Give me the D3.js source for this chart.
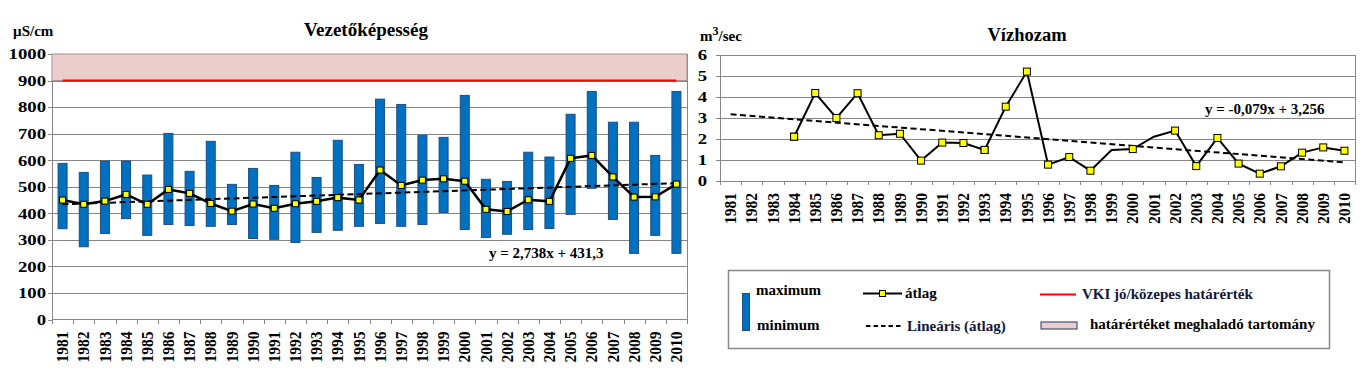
<!DOCTYPE html>
<meta charset="utf-8">
<style>
  body { margin: 0; background: #fff; }
  svg { font-family: "Liberation Serif", "Times New Roman", serif; font-weight: bold; }
  svg text { font-family: "Liberation Serif", "Times New Roman", serif; font-weight: bold; }
  .axis path { display: none; }
  .axis line { stroke: #868686; shape-rendering: crispEdges; }
  .grid line { stroke: #868686; stroke-width: 1; shape-rendering: crispEdges; }
</style>
<body>
<div id="chart"></div>
<script src="https://d3js.org/d3.v7.min.js"></script>
<script>
// categories
var years = ["1981","1982","1983","1984","1985","1986","1987","1988","1989","1990",
             "1991","1992","1993","1994","1995","1996","1997","1998","1999","2000",
             "2001","2002","2003","2004","2005","2006","2007","2008","2009","2010"];

// vezetőképesség (µS/cm)
var maxVals = [588,554,597,597,544,701,558,671,509,569,505,630,535,675,584,
               830,810,694,686,844,528,520,630,612,773,859,743,743,618,859];
var minVals = [342,274,324,380,317,358,354,351,358,305,302,290,328,336,351,
               362,351,358,403,339,309,321,339,343,396,494,377,249,317,249];
var avgVals = [450,434,446,471,434,490,475,437,408,435,419,436,445,459,450,
               563,505,525,530,521,415,407,451,445,607,618,537,461,462,510];
var limitVal = 900, bandTop = 1000;
var trendL = { slope: 2.738, intercept: 431.3, label: "y = 2,738x + 431,3" };

// vízhozam (m3/sec)
var flowVals = [null,null,null,2.11,4.19,3.0,4.18,2.18,2.25,0.97,
                1.83,1.81,1.48,3.54,5.21,0.78,1.14,0.49,1.48,1.52,
                2.11,2.40,0.71,2.05,0.83,0.35,0.70,1.35,1.60,1.44];
var trendR = { slope: -0.079, intercept: 3.256, label: "y = -0,079x + 3,256" };

var ticksL = [0,100,200,300,400,500,600,700,800,900,1000];
var ticksR = [0,1,2,3,4,5,6];

var svg = d3.select("#chart").append("svg")
    .attr("width", 1369).attr("height", 376);

// draws the common frame: grid, y axis, x axis with rotated year labels
function frame(box, yScale, ticks) {
  var x = d3.scaleBand().domain(years).range([box.x0, box.x1]);
  var g = svg.append("g");

  g.append("g").attr("class", "grid")
    .selectAll("line").data(ticks.slice(1)).enter().append("line")
    .attr("x1", box.x0).attr("x2", box.x1)
    .attr("y1", function(d) { return Math.round(yScale(d)) + 0.5; })
    .attr("y2", function(d) { return Math.round(yScale(d)) + 0.5; });

  // axis lines
  g.append("line").attr("x1", box.x0).attr("x2", box.x0)
    .attr("y1", box.yTop).attr("y2", box.yBot + 4)
    .attr("stroke", "#868686").attr("shape-rendering", "crispEdges");
  g.append("line").attr("x1", box.x0).attr("x2", box.x1)
    .attr("y1", box.yBot).attr("y2", box.yBot)
    .attr("stroke", "#868686").attr("shape-rendering", "crispEdges");
  g.append("line").attr("x1", box.x1).attr("x2", box.x1)
    .attr("y1", box.yTop).attr("y2", box.yBot)
    .attr("stroke", "#868686").attr("shape-rendering", "crispEdges");

  var ya = g.append("g").attr("class", "axis")
    .attr("transform", "translate(" + box.x0 + ",0)")
    .call(d3.axisLeft(yScale).tickValues(ticks).tickFormat(d3.format("d"))
      .tickSize(4).tickSizeOuter(0));
  ya.attr("font-family", null);
  ya.selectAll("text")
    .attr("font-size", 15).attr("fill", "#000")
    .attr("x", -box.labelGap / 1.25)
    .attr("transform", "scale(1.25,1)");

  // boundary tick marks
  var bx = d3.scaleLinear().domain([0, years.length]).range([box.x0, box.x1]);
  g.append("g").attr("class", "axis")
    .attr("transform", "translate(0," + box.yBot + ")")
    .call(d3.axisBottom(bx).ticks(years.length).tickFormat("").tickSize(4).tickSizeOuter(0));

  var xa = g.append("g").attr("class", "axis")
    .attr("transform", "translate(0," + box.yBot + ")")
    .call(d3.axisBottom(x).tickSize(0));
  xa.attr("font-family", null);
  xa.selectAll("text")
    .attr("font-size", 15.5).attr("fill", "#000")
    .attr("text-anchor", "end")
    .attr("transform", "rotate(-90) scale(1,1.12)")
    .attr("x", -12).attr("y", 0).attr("dy", "0.33em");
  return x;
}

// ---------- left chart ----------
var L = { x0: 52, x1: 687, yTop: 54, yBot: 319.5, labelGap: 6 };
var yL = d3.scaleLinear().domain([0, 1000]).range([L.yBot, L.yTop]);
var xL = frame(L, yL, ticksL);
var cL = function(d) { return xL(d) + xL.bandwidth() / 2; };

svg.append("rect")
  .attr("x", L.x0).attr("y", yL(bandTop))
  .attr("width", L.x1 - L.x0).attr("height", yL(limitVal) - yL(bandTop))
  .attr("fill", "#ebcdcb").attr("stroke", "#a38f8f");

svg.append("line")
  .attr("x1", cL(years[0])).attr("x2", cL(years[years.length - 1]))
  .attr("y1", yL(limitVal)).attr("y2", yL(limitVal))
  .attr("stroke", "#ff0000").attr("stroke-width", 2);

svg.append("g").selectAll("rect").data(years).enter().append("rect")
  .attr("x", function(d) { return cL(d) - 4.5; })
  .attr("width", 9)
  .attr("y", function(d, i) { return yL(maxVals[i]); })
  .attr("height", function(d, i) { return yL(minVals[i]) - yL(maxVals[i]); })
  .attr("fill", "#0070c0").attr("stroke", "#1d4f80").attr("stroke-width", 1);

svg.append("line")
  .attr("x1", cL(years[0])).attr("x2", cL(years[years.length - 1]))
  .attr("y1", yL(trendL.slope * 1 + trendL.intercept))
  .attr("y2", yL(trendL.slope * years.length + trendL.intercept))
  .attr("stroke", "#000").attr("stroke-width", 2).attr("stroke-dasharray", "6,3.5");

svg.append("path")
  .attr("d", d3.line().x(function(d, i) { return cL(years[i]); }).y(function(d) { return yL(d); })(avgVals))
  .attr("fill", "none").attr("stroke", "#000").attr("stroke-width", 2.5);

svg.append("g").selectAll("rect").data(avgVals).enter().append("rect")
  .attr("x", function(d, i) { return cL(years[i]) - 3; })
  .attr("y", function(d) { return yL(d) - 3; })
  .attr("width", 6).attr("height", 6)
  .attr("fill", "#ffff00").attr("stroke", "#000").attr("stroke-width", 1);

svg.append("text").attr("x", 489).attr("y", 258).attr("font-size", 15)
  .text(trendL.label);
svg.append("text").attr("x", 366).attr("y", 36).attr("font-size", 19)
  .attr("text-anchor", "middle").text("Vezetőképesség");
svg.append("text").attr("x", 13).attr("y", 36).attr("font-size", 15).text("µS/cm");

// ---------- right chart ----------
var R = { x0: 720, x1: 1355, yTop: 55, yBot: 181, labelGap: 13 };
var yR = d3.scaleLinear().domain([0, 6]).range([R.yBot, R.yTop]);
var xR = frame(R, yR, ticksR);
var cR = function(d) { return xR(d) + xR.bandwidth() / 2; };

svg.append("line")
  .attr("x1", cR(years[0])).attr("x2", cR(years[years.length - 1]))
  .attr("y1", yR(trendR.slope * 1 + trendR.intercept))
  .attr("y2", yR(trendR.slope * years.length + trendR.intercept))
  .attr("stroke", "#000").attr("stroke-width", 2).attr("stroke-dasharray", "6,3.5");

svg.append("path")
  .attr("d", d3.line().defined(function(d) { return d != null; })
    .x(function(d, i) { return cR(years[i]); }).y(function(d) { return yR(d); })(flowVals))
  .attr("fill", "none").attr("stroke", "#000").attr("stroke-width", 2);

svg.append("g").selectAll("rect").data(flowVals.filter(function(d) { return d != null; }))
  .enter().append("rect")
  .attr("x", function(d) { return cR(years[flowVals.indexOf(d)]) - 3.5; })
  .attr("y", function(d) { return yR(d) - 3.5; })
  .attr("width", 7).attr("height", 7)
  .attr("fill", "#ffff00").attr("stroke", "#000").attr("stroke-width", 1);

svg.append("text").attr("x", 1205).attr("y", 114).attr("font-size", 15)
  .text(trendR.label);
svg.append("text").attr("x", 1027).attr("y", 41).attr("font-size", 18.5)
  .attr("text-anchor", "middle").text("Vízhozam");
var unit = svg.append("text").attr("x", 700).attr("y", 41).attr("font-size", 15);
unit.append("tspan").text("m");
unit.append("tspan").attr("dy", -6).attr("font-size", 12).text("3");
unit.append("tspan").attr("dy", 6).text("/sec");

// ---------- legend ----------
var lg = svg.append("g");
lg.append("rect").attr("x", 728.5).attr("y", 270.5).attr("width", 601).attr("height", 78)
  .attr("fill", "#fff").attr("stroke", "#888").attr("stroke-width", 1.5);

lg.append("rect").attr("x", 742.5).attr("y", 293.5).attr("width", 7).attr("height", 37)
  .attr("fill", "#0070c0").attr("stroke", "#1d4f80");
lg.append("text").attr("x", 756).attr("y", 295).attr("font-size", 15).text("maximum");
lg.append("text").attr("x", 757).attr("y", 330).attr("font-size", 15).text("minimum");

lg.append("line").attr("x1", 863).attr("x2", 902).attr("y1", 293.5).attr("y2", 293.5)
  .attr("stroke", "#000").attr("stroke-width", 2);
lg.append("rect").attr("x", 879.5).attr("y", 290.5).attr("width", 6).attr("height", 6)
  .attr("fill", "#ffff00").attr("stroke", "#000");
lg.append("text").attr("x", 905).attr("y", 298).attr("font-size", 15).text("átlag");

lg.append("line").attr("x1", 866).attr("x2", 902).attr("y1", 326).attr("y2", 326)
  .attr("stroke", "#000").attr("stroke-width", 2).attr("stroke-dasharray", "4.5,3");
lg.append("text").attr("x", 907).attr("y", 331).attr("font-size", 15)
  .attr("fill", "#14163a").text("Lineáris (átlag)");

lg.append("line").attr("x1", 1040).attr("x2", 1076).attr("y1", 294.5).attr("y2", 294.5)
  .attr("stroke", "#ff0000").attr("stroke-width", 2);
lg.append("text").attr("x", 1082).attr("y", 299).attr("font-size", 15)
  .attr("fill", "#14163a").text("VKI jó/közepes határérték");

lg.append("rect").attr("x", 1041).attr("y", 322).attr("width", 36).attr("height", 7)
  .attr("fill", "#ebcdcb").attr("stroke", "#1f3864");
lg.append("text").attr("x", 1090).attr("y", 329).attr("font-size", 15)
  .text("határértéket meghaladó tartomány");
</script>
</body>
